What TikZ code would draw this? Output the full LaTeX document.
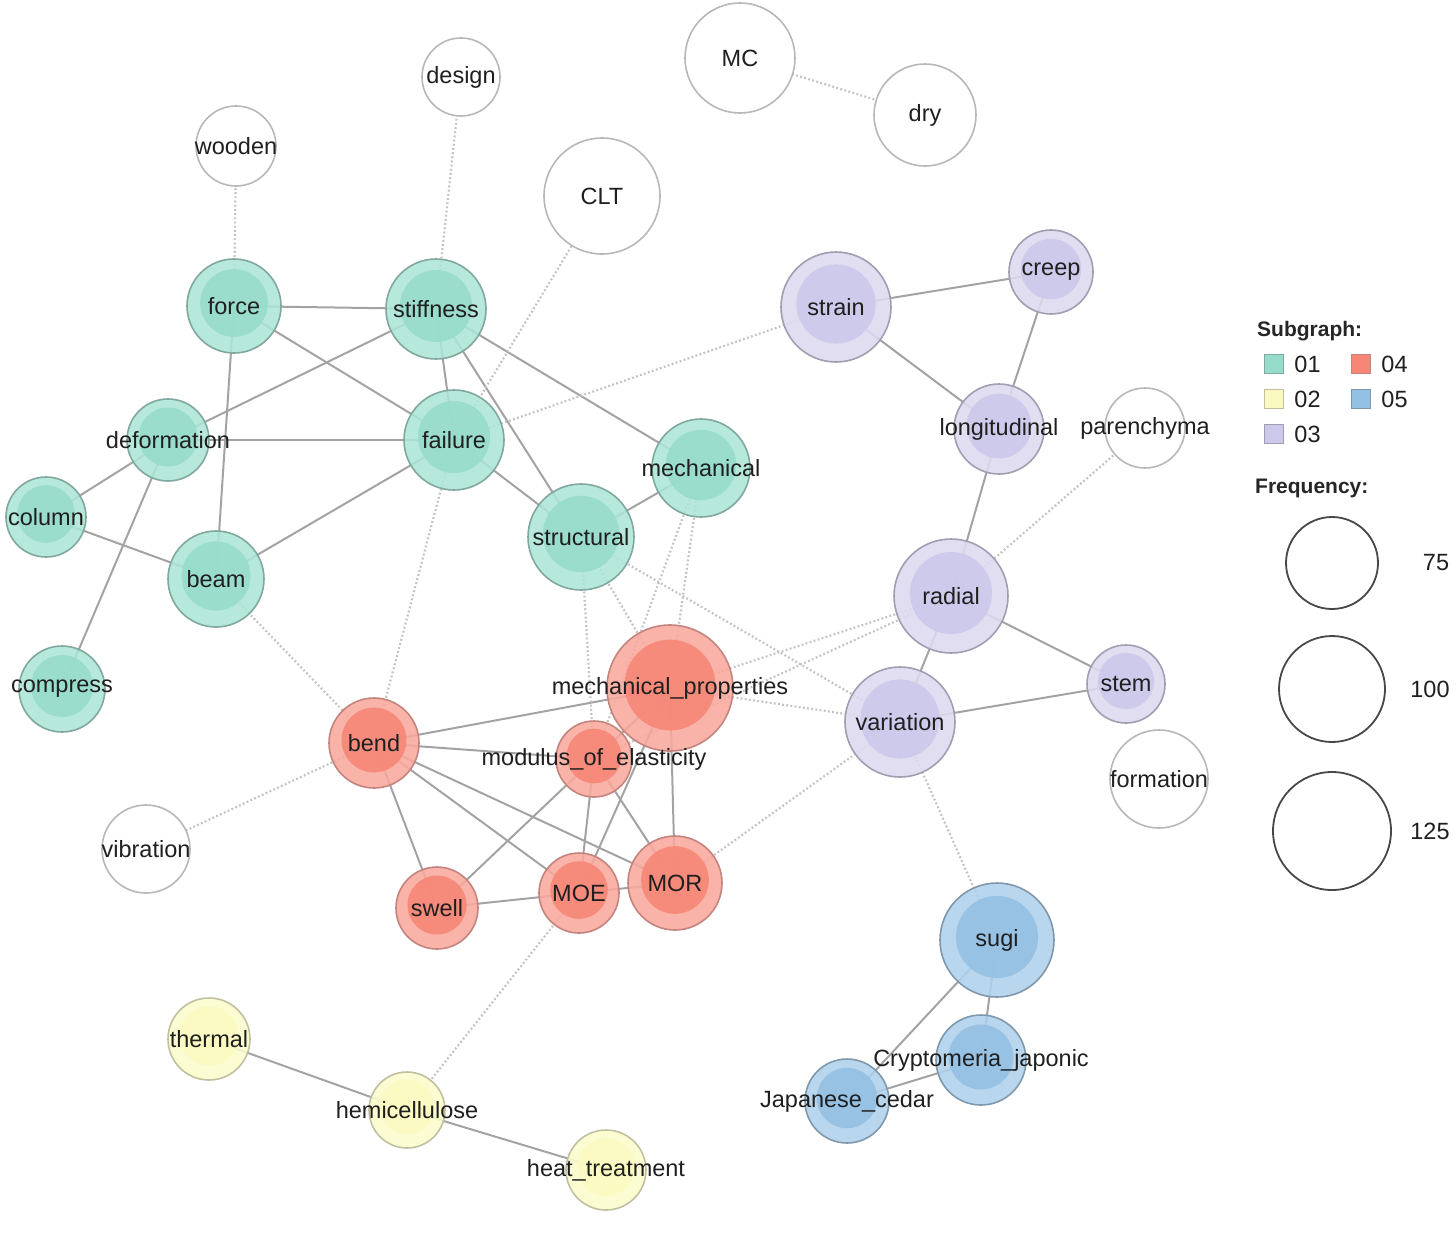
\documentclass[tikz,border=0pt]{standalone}
\usepackage{fontspec}
\setmainfont{Liberation Sans}
\usetikzlibrary{backgrounds}
\pgfdeclarelayer{front}
\pgfsetlayers{background,main,front}

\definecolor{cTealOut}{RGB}{172,229,215}
\definecolor{cTealIn}{RGB}{150,220,202}
\definecolor{cTealLine}{RGB}{128,168,158}
\definecolor{cRedOut}{RGB}{248,168,156}
\definecolor{cRedIn}{RGB}{246,134,118}
\definecolor{cRedLine}{RGB}{196,132,126}
\definecolor{cPurpleOut}{RGB}{221,218,239}
\definecolor{cPurpleIn}{RGB}{204,200,235}
\definecolor{cPurpleLine}{RGB}{160,158,176}
\definecolor{cBlueOut}{RGB}{174,208,234}
\definecolor{cBlueIn}{RGB}{148,192,228}
\definecolor{cBlueLine}{RGB}{128,152,172}
\definecolor{cYellowOut}{RGB}{252,252,204}
\definecolor{cYellowIn}{RGB}{250,250,192}
\definecolor{cYellowLine}{RGB}{192,192,160}

\tikzset{
  kw/.style={circle, draw=c#1Line, fill=c#1Out, line width=1.6pt, inner sep=0pt, fill opacity=0.88},
  word/.style={circle, draw=black!28, fill=white, line width=1.6pt, inner sep=0pt},
  lbl/.style={font=\fontsize{23.5}{26}\selectfont, text=black!88, inner sep=0pt},
  head/.style={font=\bfseries\fontsize{21}{24}\selectfont, text=black!85, anchor=west, inner sep=0pt},
  swatch/.style={rectangle, draw=c#1Line, fill=c#1In, line width=1.5pt, minimum size=19pt, inner sep=0pt},
  freq/.style={circle, draw=black!72, line width=1.8pt, inner sep=0pt},
  link/.style={draw=black!36, line width=2pt},
  weak/.style={draw=black!24, line width=2.2pt, dash pattern=on 1.8pt off 2.4pt},
}

\begin{document}
\begin{tikzpicture}[x=1pt, y=-1pt]
  \useasboundingbox (0,0) rectangle (1456,1235);

  % keywords in a subgraph: name/x/y/radius/group/text
  \foreach \n/\x/\y/\r/\g/\t in {
      force/234/306/47/Teal/force, stiffness/436/309/50/Teal/stiffness,
      deformation/168/440/41/Teal/deformation, failure/454/440/50/Teal/failure,
      mechanical/701/468/49/Teal/mechanical, column/46/517/40/Teal/column,
      structural/581/537/53/Teal/structural, beam/216/579/48/Teal/beam,
      compress/62/689/43/Teal/compress,
      strain/836/307/55/Purple/strain, creep/1051/272/42/Purple/creep,
      longitudinal/999/429/45/Purple/longitudinal, radial/951/596/57/Purple/radial,
      stem/1126/684/39/Purple/stem, variation/900/722/55/Purple/variation,
      mprop/670/688/63/Red/mechanical\_properties, bend/374/743/45/Red/bend,
      moe2/594/759/38/Red/modulus\_of\_elasticity, swell/437/908/41/Red/swell,
      MOE/579/893/40/Red/MOE, MOR/675/883/47/Red/MOR,
      sugi/997/940/57/Blue/sugi, cryjap/981/1060/45/Blue/Cryptomeria\_japonic,
      jcedar/847/1101/42/Blue/Japanese\_cedar,
      thermal/209/1039/41/Yellow/thermal, hemi/407/1110/38/Yellow/hemicellulose,
      heat/606/1170/40/Yellow/heat\_treatment}{
    \node[kw=\g, minimum size=2*\r pt,
      path picture={\fill[c\g In] ([yshift=3pt]path picture bounding box.center) circle[radius=0.72*\r pt];}]
      (\n) at (\x,\y) {};
    \begin{pgfonlayer}{front}
      \node[lbl] at (\n) {\t};
    \end{pgfonlayer}
  }

  % keywords outside any subgraph
  \foreach \n/\x/\y/\r/\t in {
      design/461/77/39/design, wooden/236/146/40/wooden, MC/740/58/55/MC,
      dry/925/115/51/dry, CLT/602/196/58/CLT, parenchyma/1145/428/40/parenchyma,
      formation/1159/779/49/formation, vibration/146/849/44/vibration}{
    \node[word, minimum size=2*\r pt] (\n) at (\x,\y) {};
    \begin{pgfonlayer}{front}
      \node[lbl] at (\n) {\t};
    \end{pgfonlayer}
  }

  \begin{pgfonlayer}{background}
    % links within subgraphs
    \foreach \a/\b in {force/stiffness, force/failure, force/beam, stiffness/deformation,
        stiffness/failure, stiffness/structural, stiffness/mechanical, deformation/failure,
        deformation/column, deformation/compress, column/beam, beam/failure,
        failure/structural, structural/mechanical,
        strain/creep, strain/longitudinal, creep/longitudinal, longitudinal/radial,
        radial/variation, radial/stem, variation/stem,
        bend/mprop, bend/moe2, bend/swell, bend/MOE, bend/MOR, moe2/swell, moe2/MOE,
        moe2/MOR, moe2/mprop, mprop/MOR, mprop/MOE, MOE/MOR, swell/MOE,
        sugi/cryjap, sugi/jcedar, cryjap/jcedar, thermal/hemi, hemi/heat}
      \draw[link] (\a.center) -- (\b.center);
    % links between subgraphs
    \foreach \a/\b in {wooden/force, design/stiffness, CLT/failure, MC/dry, strain/failure,
        failure/bend, beam/bend, bend/vibration, mechanical/mprop, mechanical/moe2,
        structural/mprop, structural/moe2, structural/variation, radial/mprop, radial/moe2,
        mprop/variation, variation/MOR, variation/sugi, parenchyma/radial, MOE/hemi}
      \draw[weak] (\a.center) -- (\b.center);
  \end{pgfonlayer}

  % legend
  \node[head] (subg) at (1257,331) {Subgraph:};
  \foreach \k/\g/\x/\y in {01/Teal/1274/364, 04/Red/1361/364, 02/Yellow/1274/399,
      05/Blue/1361/399, 03/Purple/1274/434}{
    \node[swatch=\g] (s\k) at (\x,\y) {};
    \node[lbl, anchor=west] at ([xshift=10pt]s\k.east) {\k};
  }
  \node[head] (freqhead) at (1255,488) {Frequency:};
  \foreach \v/\y/\r/\lx in {75/563/46/1436, 100/689/53/1430, 125/831/59/1430}{
    \node[freq, minimum size=2*\r pt] (f\v) at (1332,\y) {};
    \node[lbl] at (\lx,\y) {\v};
  }
\end{tikzpicture}
\end{document}
